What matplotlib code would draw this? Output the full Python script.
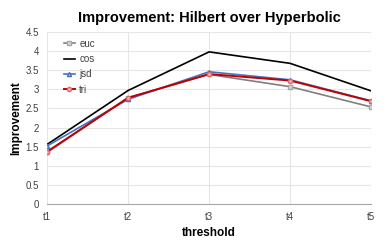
import matplotlib.pyplot as plt
import numpy as np

# data
thresholds = ['t1', 't2', 't3', 't4', 't5']
euc = [1.35, 2.78, 3.39, 3.07, 2.54]
cos = [1.56, 2.97, 3.98, 3.68, 2.96]
jsd = [1.52, 2.74, 3.46, 3.25, 2.70]
tri = [1.37, 2.78, 3.40, 3.23, 2.69]

plt.rcParams['font.family'] = ['Liberation Sans', 'DejaVu Sans']

fig = plt.figure(figsize=(3.89, 2.48), dpi=100)
ax = fig.add_axes([0.121, 0.177, 0.833, 0.694])

x = np.arange(len(thresholds))
ax.plot(x, euc, color='#7f7f7f', lw=1.2, marker='s', ms=3, mfc='#d9d9d9', mec='#a6a6a6', label='euc')
ax.plot(x, cos, color='black', lw=1.2, label='cos')
ax.plot(x, jsd, color='#4472c4', lw=1.2, marker='^', ms=3, mfc='#b4c7e7', mec='#4472c4', label='jsd')
ax.plot(x, tri, color='#c00000', lw=1.4, marker='o', ms=3, mfc='#f4b6b6', mec='#e06666', label='tri')

ax.set_xlim(0, 4)
ax.set_ylim(0, 4.5)
ax.set_xticks(x)
ax.set_xticklabels(thresholds)
ax.set_yticks(np.arange(0, 4.51, 0.5))
ax.set_yticklabels(['0', '0.5', '1', '1.5', '2', '2.5', '3', '3.5', '4', '4.5'])
ax.tick_params(labelsize=7, length=0, pad=6, colors='#404040')
ax.grid(True, color='#e6e6e6', lw=0.8)
ax.set_axisbelow(True)
for s in ['top', 'right', 'left']:
    ax.spines[s].set_visible(False)
ax.spines['bottom'].set_color('#a6a6a6')

ax.set_title('Improvement: Hilbert over Hyperbolic', fontsize=10.5, fontweight='bold', pad=7)
ax.set_xlabel('threshold', fontsize=8.5, fontweight='bold', labelpad=3)
ax.set_ylabel('Improvement', fontsize=8.5, fontweight='bold', labelpad=2)

leg = ax.legend(loc='upper left', fontsize=7, frameon=False, handlelength=1.2, handletextpad=0.4,
                labelspacing=0.55, borderaxespad=0.3, bbox_to_anchor=(0.03, 1.0))
for t in leg.get_texts():
    t.set_color('#404040')

plt.savefig('out.png', dpi=100)
